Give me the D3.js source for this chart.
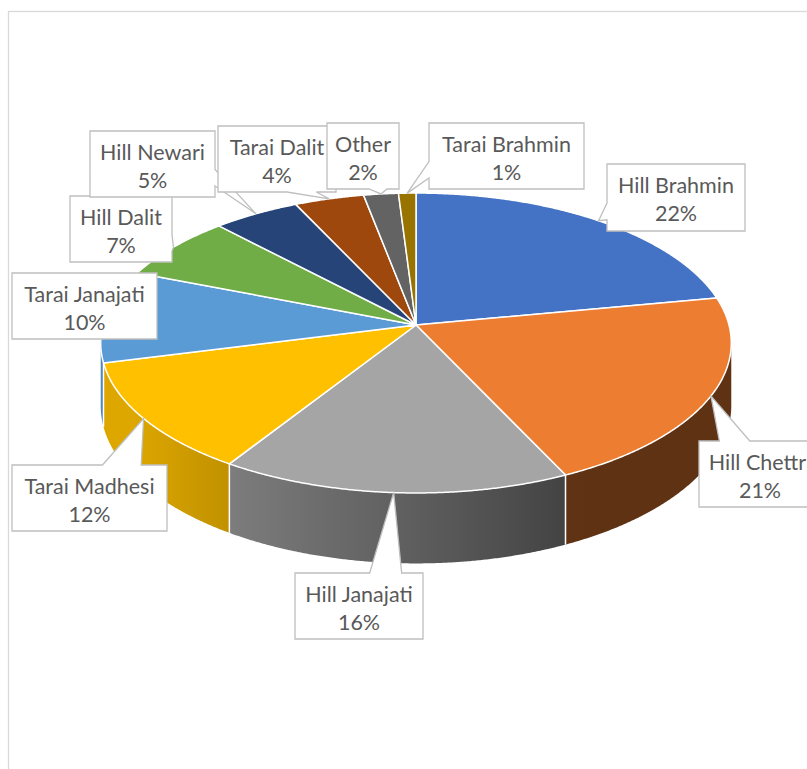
<!DOCTYPE html>
<html>
<head>
<meta charset="utf-8">
<script src="https://cdn.jsdelivr.net/npm/d3@7"></script>
<style>
  html, body { margin: 0; padding: 0; background: #ffffff; overflow: hidden; }
  svg { display: block; }
</style>
</head>
<body>
<svg id="chart" width="807" height="769"></svg>
<script>
// Population share by caste / ethnic group (percent)
const categories = ["Hill Brahmin", "Hill Chettri", "Hill Janajati", "Tarai Madhesi", "Tarai Janajati",
                    "Hill Dalit", "Hill Newari", "Tarai Dalit", "Other", "Tarai Brahmin"];
const shares = [22, 21, 16, 12, 10, 7, 5, 4, 2, 1];
const sliceColors = ["#4472C4", "#ED7D31", "#A5A5A5", "#FFC000", "#5B9BD5",
                     "#70AD47", "#264478", "#9E480E", "#636363", "#997300"];

// Callout boxes [left, top, right, bottom] for each category's data label
const calloutBoxes = [
  [607, 164, 745, 231],
  [699, 441, 821, 507],
  [295, 573, 423, 639],
  [12, 465, 167, 531],
  [12, 273, 157, 339],
  [70, 196, 172, 262],
  [90, 131, 215, 197],
  [218, 126, 336, 192],
  [327, 123, 399, 189],
  [429, 123, 584, 189]
];

const svg = d3.select("#chart");
const defs = svg.append("defs");

// chart area frame
svg.append("rect")
  .attr("x", 8.5).attr("y", 11.5).attr("width", 900).attr("height", 900)
  .attr("fill", "#ffffff").attr("stroke", "#d9d9d9").attr("stroke-width", 1.3);

// 3-D pie geometry: tilted disc seen in perspective
const cx = 416, cy = 325, rx = 313, ry = 147.8, dist = 8.33, depth = 62;

function project(theta, lower) {
  const u = Math.sin(theta), v = -Math.cos(theta);
  const s = dist / (dist - v);
  return [cx + rx * u * s, cy + ry * v * s + (lower ? depth * s : 0)];
}

// silhouette angles of the disc (extreme left / right)
let thR = Math.PI / 2, thL = 3 * Math.PI / 2, maxX = -Infinity, minX = Infinity;
for (let t = 0; t < 2 * Math.PI; t += 0.001) {
  const x = project(t, false)[0];
  if (x > maxX) { maxX = x; thR = t; }
  if (x < minX) { minX = x; thL = t; }
}

const arcs = d3.pie().sort(null).value(d => d).startAngle(0).endAngle(2 * Math.PI)(shares);

function arcPoints(a, b, lower) {
  const n = Math.max(2, Math.ceil(Math.abs(b - a) / 0.005));
  const pts = [];
  for (let i = 0; i <= n; i++) pts.push(project(a + (b - a) * i / n, lower));
  return pts;
}

// side wall shading depends on which way the wall faces
function shade(color, theta) {
  const nx = Math.sin(theta);
  const t = Math.max(0, Math.min(1, (0.45 - nx) / 1.3));
  const f = 0.4 + 0.47 * t;
  const c = d3.rgb(color);
  return d3.rgb(c.r * f, c.g * f, c.b * f).formatHex();
}

const sides = svg.append("g");
arcs.forEach((d, i) => {
  const a = Math.max(d.startAngle, thR), b = Math.min(d.endAngle, thL);
  if (b <= a) return;
  const top = arcPoints(a, b, false);
  const bottom = arcPoints(b, a, true);
  const gid = "side" + i;
  const x1 = project(a, false)[0], x2 = project(b, false)[0];
  const grad = defs.append("linearGradient").attr("id", gid)
    .attr("gradientUnits", "userSpaceOnUse")
    .attr("x1", x1).attr("y1", 0).attr("x2", x2).attr("y2", 0);
  for (let k = 0; k <= 12; k++) {
    const th = a + (b - a) * k / 12;
    const x = project(th, false)[0];
    grad.append("stop")
      .attr("offset", Math.abs(x2 - x1) < 0.01 ? 0 : (x - x1) / (x2 - x1))
      .attr("stop-color", shade(sliceColors[i], th));
  }
  sides.append("path")
    .attr("d", "M" + top.concat(bottom).map(p => p.join(",")).join("L") + "Z")
    .attr("fill", "url(#" + gid + ")");
});

// seams between neighbouring walls
arcs.forEach(d => {
  const t = d.startAngle;
  if (t > thR && t < thL) {
    const p = project(t, false), q = project(t, true);
    sides.append("line").attr("x1", p[0]).attr("y1", p[1]).attr("x2", q[0]).attr("y2", q[1])
      .attr("stroke", "#ffffff").attr("stroke-width", 1.5);
  }
});

// top faces
const tops = svg.append("g");
arcs.forEach((d, i) => {
  const pts = [[cx, cy]].concat(arcPoints(d.startAngle, d.endAngle, false));
  tops.append("path")
    .attr("d", "M" + pts.map(p => p.join(",")).join("L") + "Z")
    .attr("fill", sliceColors[i])
    .attr("stroke", "#ffffff").attr("stroke-width", 1.5).attr("stroke-linejoin", "round");
});

// callout shape: rectangle with a wedge tail towards the anchor point
function calloutPath(box, px, py) {
  const [x0, y0, x1, y1] = box;
  const w = x1 - x0, h = y1 - y0;
  const dx = px - (x0 + w / 2), dy = py - (y0 + h / 2);
  const inside = px >= x0 && px <= x1 && py >= y0 && py <= y1;
  let top = "", right = "", bottom = "", left = "";
  if (!inside) {
    const dq = dx * h / w;
    if (Math.abs(dy) > Math.abs(dq)) {
      const xa = x0 + w * (dx > 0 ? 7 : 2) / 12, xb = x0 + w * (dx > 0 ? 10 : 5) / 12;
      if (dy < 0) top = `L${xa},${y0}L${px},${py}L${xb},${y0}`;
      else bottom = `L${xb},${y1}L${px},${py}L${xa},${y1}`;
    } else {
      const ya = y0 + h * (dy > 0 ? 7 : 2) / 12, yb = y0 + h * (dy > 0 ? 10 : 5) / 12;
      if (dx > 0) right = `L${x1},${ya}L${px},${py}L${x1},${yb}`;
      else left = `L${x0},${yb}L${px},${py}L${x0},${ya}`;
    }
  }
  return `M${x0},${y0}${top}L${x1},${y0}${right}L${x1},${y1}${bottom}L${x0},${y1}${left}Z`;
}

const labels = svg.append("g")
  .attr("font-family", "Lato, 'Open Sans', sans-serif")
  .attr("font-size", 21.5).attr("fill", "#595959");
arcs.forEach((d, i) => {
  const mid = (d.startAngle + d.endAngle) / 2;
  const [px, py] = project(mid, false);
  const box = calloutBoxes[i];
  const g = labels.append("g");
  g.append("path").attr("d", calloutPath(box, px, py))
    .attr("fill", "#ffffff").attr("stroke", "#bfbfbf").attr("stroke-width", 1.3)
    .attr("stroke-linejoin", "miter");
  const tx = (box[0] + box[2]) / 2;
  g.append("text").attr("x", tx).attr("y", box[1] + 29).attr("text-anchor", "middle")
    .text(categories[i]);
  g.append("text").attr("x", tx).attr("y", box[1] + 57).attr("text-anchor", "middle")
    .text(shares[i] + "%");
});
</script>
</body>
</html>
